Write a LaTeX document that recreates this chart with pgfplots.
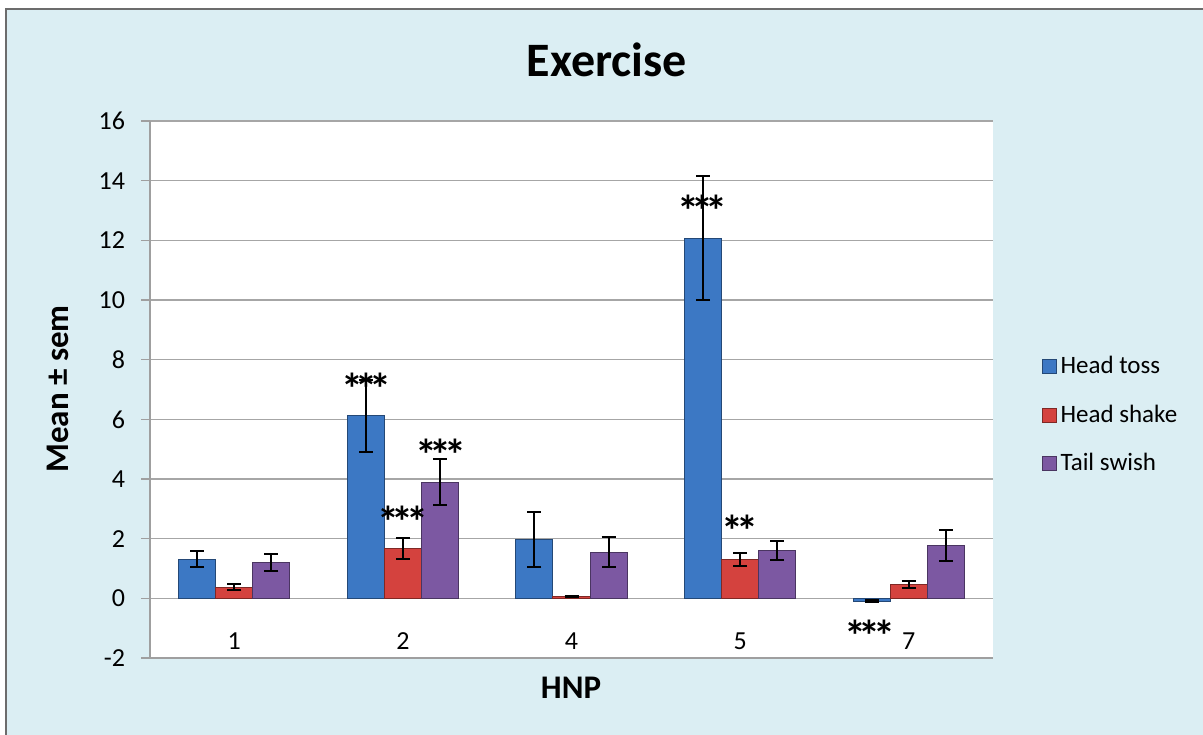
\documentclass[border=0pt]{standalone}
\usepackage{pgfplots}
\pgfplotsset{compat=1.18}
\usepackage{fontspec}
\setmainfont{Carlito}
\definecolor{bgblue}{RGB}{219,238,243}
\definecolor{htB}{RGB}{60,120,196}
\definecolor{hsR}{RGB}{212,66,62}
\definecolor{tsP}{RGB}{124,88,162}
\newcommand{\st}{*\kern-3.8pt}
\begin{document}
\begin{tikzpicture}
\clip (-75pt,-38pt) rectangle (526.5pt,329pt);
\fill[white] (-75pt,-38pt) rectangle (526.5pt,329pt);
\filldraw[fill=bgblue, draw=gray!85!black, line width=1pt] (-72pt,-45pt) rectangle (540pt,324.5pt);
\begin{axis}[
  at={(0pt,0pt)}, anchor=south west,
  scale only axis, width=421.5pt, height=268.5pt,
  axis background/.style={fill=white},
  xmin=-0.5, xmax=4.5, ymin=-2, ymax=16,
  ytick={-2,0,2,4,6,8,10,12,14,16},
  xtick={0,1,2,3,4}, xticklabels={1,2,4,5,7},
  axis y line=left, axis x line=bottom,
  axis line style={gray!75, line width=0.8pt, -},
  ymajorgrids, grid style={gray!70, line width=0.8pt},
  tick align=outside, major tick length=4.5pt,
  tick style={gray!75, line width=0.8pt},
  xtick style={draw=none},
  xticklabel style={anchor=center, yshift=13pt},
  yticklabel style={xshift=-4.5pt},
  ticklabel style={font=\fontsize{13}{13}\selectfont},
  /pgf/number format/assume math mode=true,
  ybar=0pt, bar width=0.22,
  clip=false,
  legend style={at={(1.05,0.4525)}, anchor=west, draw=none, fill=none,
    font=\fontsize{12.5}{12.5}\selectfont, row sep=10pt, legend cell align=left},
  legend image code/.code={\draw[#1] (0pt,-3.5pt) rectangle (7pt,3.5pt);},
  error bars/y dir=both, error bars/y explicit,
  error bars/error bar style={black, line width=1pt},
  error bars/error mark options={rotate=90, mark size=3.5pt, black, line width=1pt},
]
\addplot[fill=htB, draw=htB!60!black, line width=0.5pt] coordinates {
  (0,1.31) +- (0,0.27)
  (1,6.12) +- (0,1.21)
  (2,1.98) +- (0,0.93)
  (3,12.07) +- (0,2.07)
  (4,-0.1) +- (0,0.03)
};
\addplot[fill=hsR, draw=hsR!60!black, line width=0.5pt] coordinates {
  (0,0.38) +- (0,0.10)
  (1,1.67) +- (0,0.36)
  (2,0.05) +- (0,0.02)
  (3,1.30) +- (0,0.22)
  (4,0.47) +- (0,0.12)
};
\addplot[fill=tsP, draw=tsP!60!black, line width=0.5pt] coordinates {
  (0,1.21) +- (0,0.28)
  (1,3.89) +- (0,0.77)
  (2,1.55) +- (0,0.49)
  (3,1.60) +- (0,0.31)
  (4,1.78) +- (0,0.52)
};
\legend{Head toss, Head shake, Tail swish}
\begin{scope}[every node/.style={font=\fontsize{22}{22}\selectfont\bfseries, yshift=-4pt}]
\node at (axis cs:0.783,7.28) {\st\st*};
\node at (axis cs:1.0,2.85) {\st\st*};
\node at (axis cs:1.225,5.07) {\st\st*};
\node at (axis cs:2.777,13.27) {\st\st*};
\node at (axis cs:3.0,2.52) {\st*};
\node at (axis cs:3.77,-1.0) {\st\st*};
\end{scope}
\end{axis}
\node[font=\fontsize{24}{24}\selectfont\bfseries] at (228.5pt,299pt) {Exercise};
\node[rotate=90, font=\fontsize{16.5}{16.5}\selectfont\bfseries] at (-46pt,134.5pt) {Mean ± sem};
\node[font=\fontsize{16.5}{16.5}\selectfont\bfseries] at (210.5pt,-15pt) {HNP};
\end{tikzpicture}
\end{document}
